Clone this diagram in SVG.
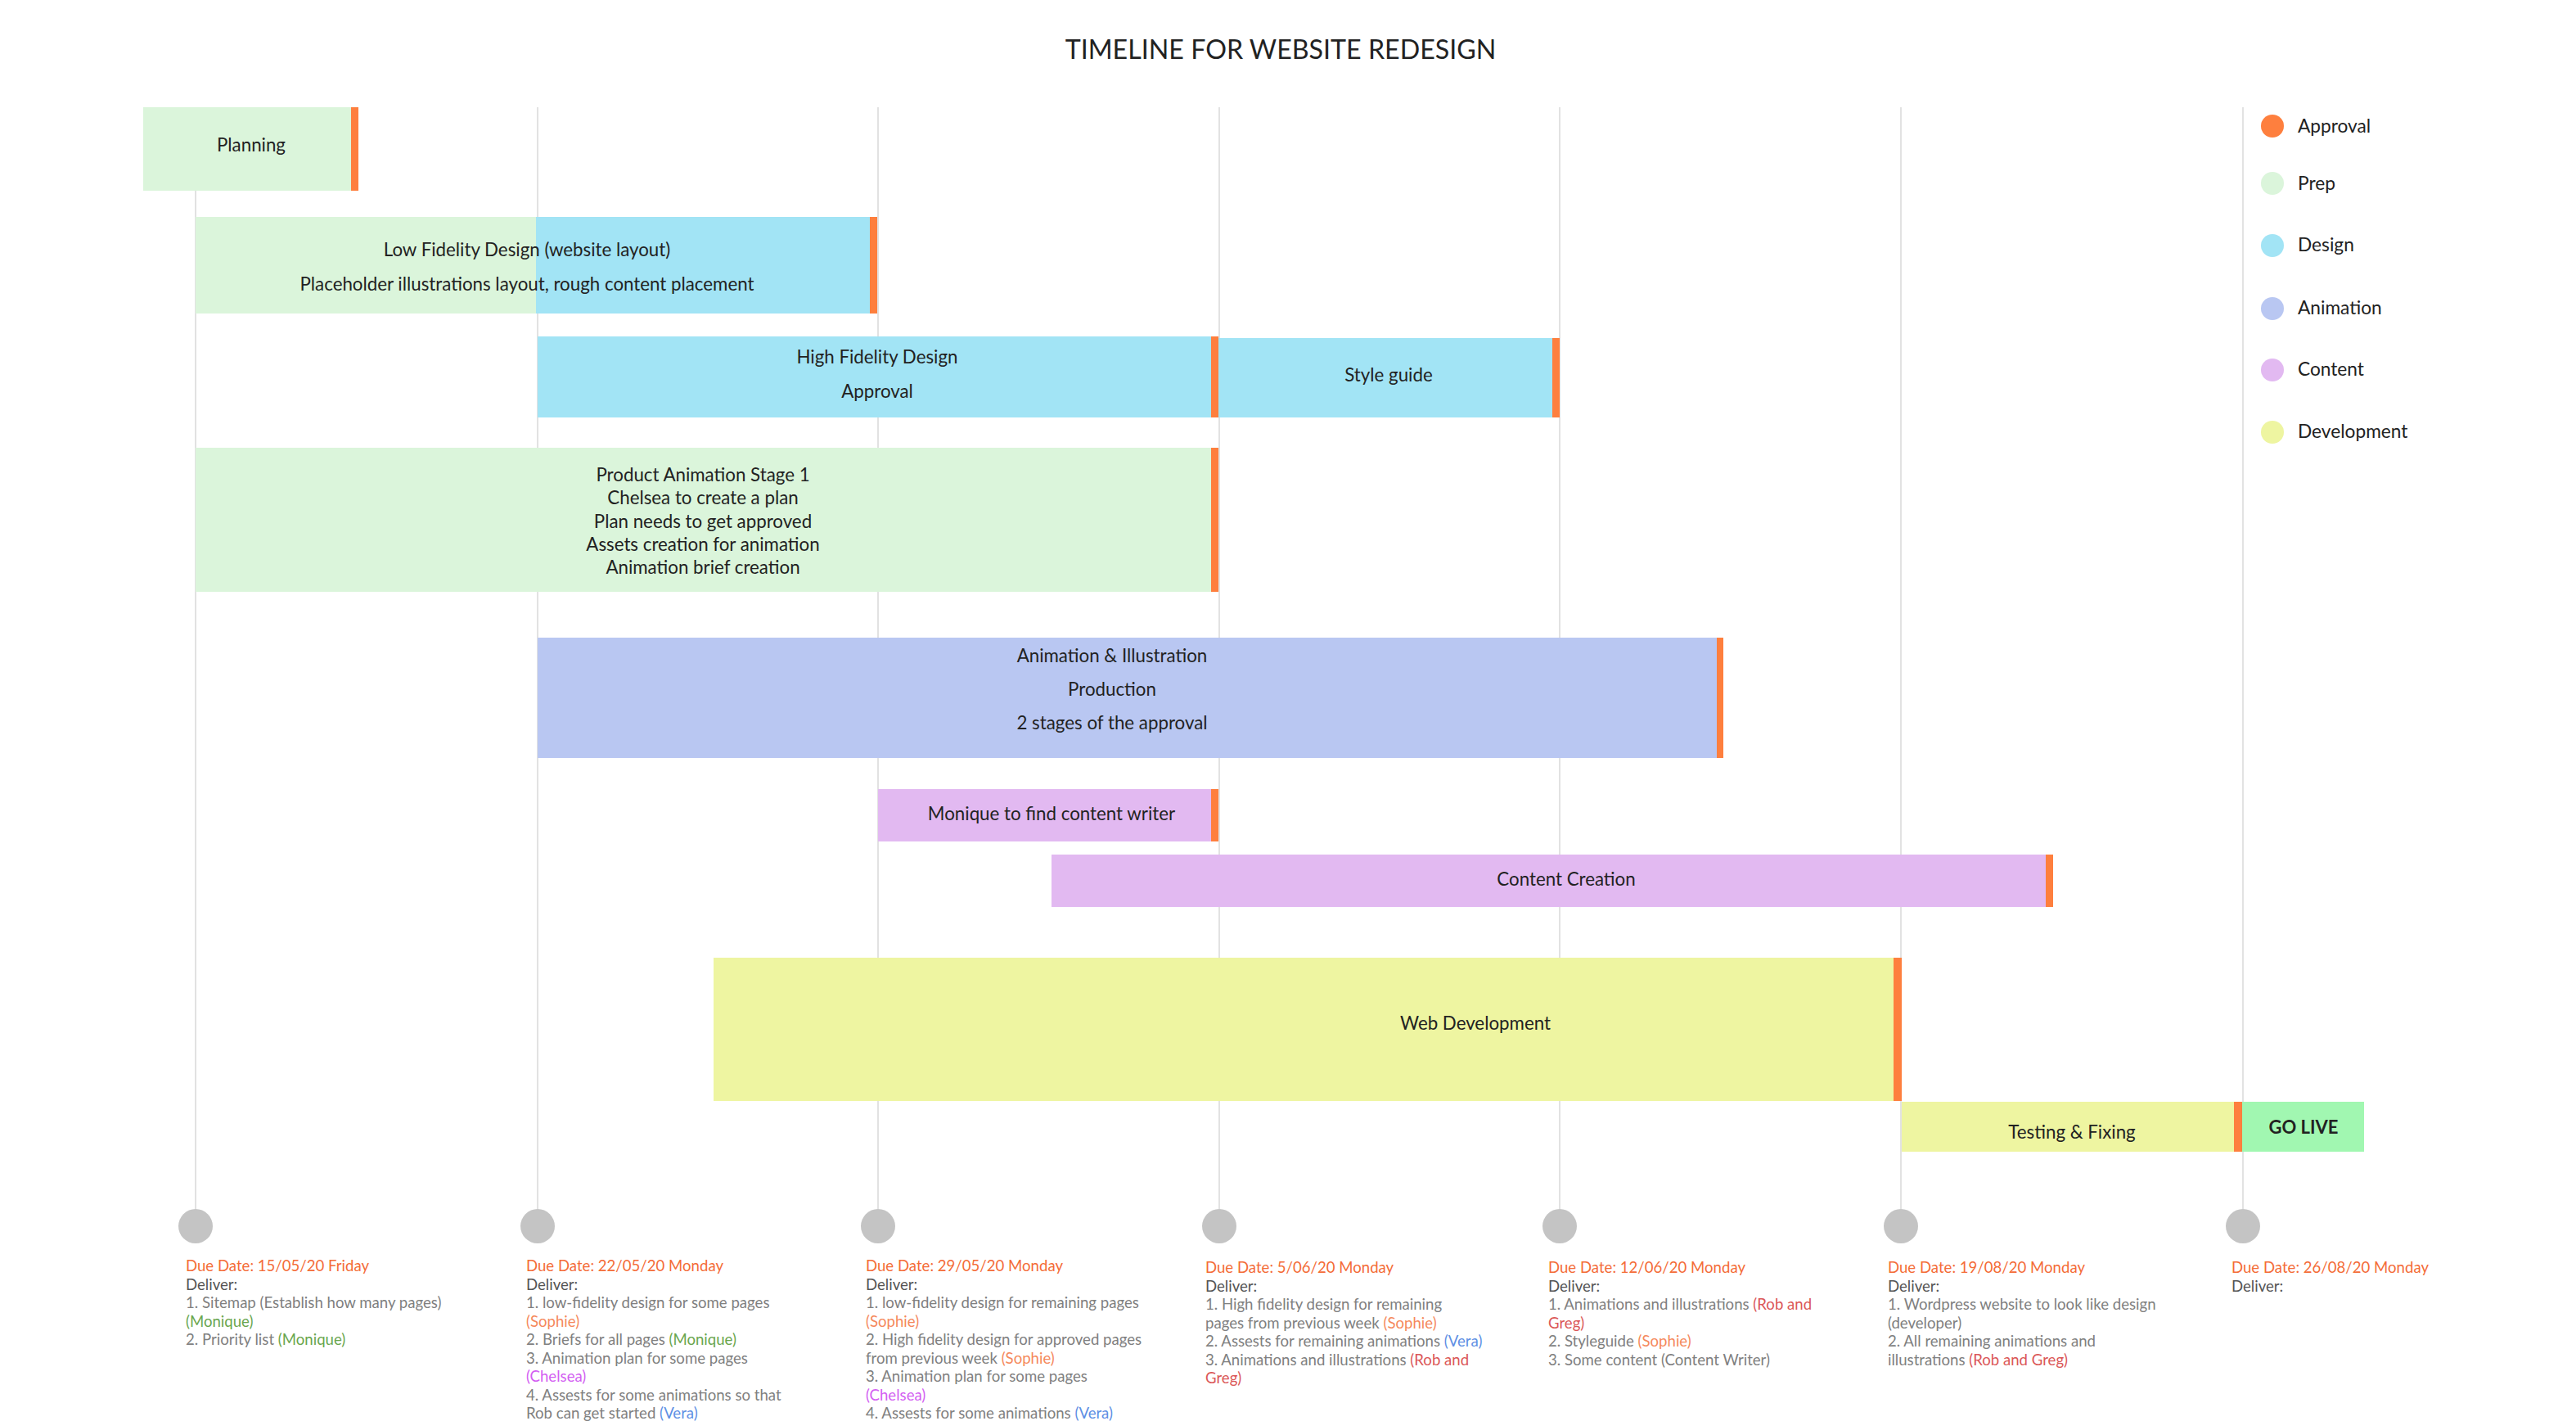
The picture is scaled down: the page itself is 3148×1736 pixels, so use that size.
<svg xmlns="http://www.w3.org/2000/svg" width="3148" height="1736" viewBox="0 0 3148 1736">
<style>
text{font-family:Lato,"Noto Sans","Liberation Sans",sans-serif;}
.bar{font-size:22.3px;fill:#222;text-anchor:middle;}
.lg{font-size:22.7px;fill:#222;}
.ap{fill:#FE7F3E;}
.prep{fill:#DBF5DB;}
.des{fill:#A2E4F5;}
.ani{fill:#B9C7F2;}
.con{fill:#E2B9F1;}
.dev{fill:#EEF5A1;}
.grid{stroke:#E2E2E2;stroke-width:2;fill:none;}
.dot{fill:#C4C4C4;}
.note{font-size:18.6px;fill:#808080;}
.due{fill:#F46C37;}
.dl{fill:#555;}
.mo{fill:#6AA64E;}
.so{fill:#F5895C;}
.ch{fill:#D35FF2;}
.ve{fill:#5E8FE4;}
.rg{fill:#DB5757;}
</style>
<rect x="0" y="0" width="3148" height="1736" fill="#fff"/>
<text x="1565" y="72" style="font-size:32.2px;fill:#222;text-anchor:middle;">TIMELINE FOR WEBSITE REDESIGN</text>

<g id="gridlines">
<line class="grid" x1="239" y1="131" x2="239" y2="1477"/>
<line class="grid" x1="657" y1="131" x2="657" y2="1477"/>
<line class="grid" x1="1073" y1="131" x2="1073" y2="1477"/>
<line class="grid" x1="1490" y1="131" x2="1490" y2="1477"/>
<line class="grid" x1="1906" y1="131" x2="1906" y2="1477"/>
<line class="grid" x1="2323" y1="131" x2="2323" y2="1477"/>
<line class="grid" x1="2741" y1="131" x2="2741" y2="1477"/>
</g>

<g id="planning">
<rect class="prep" x="175" y="131" width="254" height="102"/>
<rect class="ap" x="429" y="131" width="9" height="102"/>
<text class="bar" x="307" y="185">Planning</text>
</g>

<g id="low-fidelity">
<rect class="prep" x="239" y="265" width="417" height="118"/>
<rect class="des" x="655" y="265" width="408" height="118"/>
<rect class="ap" x="1063" y="265" width="9" height="118"/>
<text class="bar" x="644" y="313">Low Fidelity Design (website layout)</text>
<text class="bar" x="644" y="355">Placeholder illustrations layout, rough content placement</text>
</g>

<g id="high-fidelity">
<rect class="des" x="657" y="411" width="823" height="99"/>
<rect class="ap" x="1480" y="411" width="9" height="99"/>
<text class="bar" x="1072" y="444">High Fidelity Design</text>
<text class="bar" x="1072" y="486">Approval</text>
</g>

<g id="style-guide">
<rect class="des" x="1489" y="413" width="408" height="97"/>
<rect class="ap" x="1897" y="413" width="9" height="97"/>
<text class="bar" x="1697" y="466">Style guide</text>
</g>

<g id="product-animation">
<rect class="prep" x="239" y="547" width="1241" height="176"/>
<rect class="ap" x="1480" y="547" width="9" height="176"/>
<text class="bar" x="859" y="588">Product Animation Stage 1</text>
<text class="bar" x="859" y="616">Chelsea to create a plan</text>
<text class="bar" x="859" y="645">Plan needs to get approved</text>
<text class="bar" x="859" y="673">Assets creation for animation</text>
<text class="bar" x="859" y="701">Animation brief creation</text>
</g>

<g id="animation-illustration">
<rect class="ani" x="657" y="779" width="1441" height="147"/>
<rect class="ap" x="2098" y="779" width="8" height="147"/>
<text class="bar" x="1359" y="809">Animation &amp; Illustration</text>
<text class="bar" x="1359" y="850">Production</text>
<text class="bar" x="1359" y="891">2 stages of the approval</text>
</g>

<g id="content-writer">
<rect class="con" x="1073" y="964" width="407" height="64"/>
<rect class="ap" x="1480" y="964" width="9" height="64"/>
<text class="bar" x="1285" y="1002">Monique to find content writer</text>
</g>

<g id="content-creation">
<rect class="con" x="1285" y="1044" width="1215" height="64"/>
<rect class="ap" x="2500" y="1044" width="9" height="64"/>
<text class="bar" x="1914" y="1082">Content Creation</text>
</g>

<g id="web-development">
<rect class="dev" x="872" y="1170" width="1442" height="175"/>
<rect class="ap" x="2314" y="1170" width="10" height="175"/>
<text class="bar" x="1803" y="1258">Web Development</text>
</g>

<g id="testing">
<rect class="dev" x="2324" y="1346" width="406" height="61"/>
<rect class="ap" x="2730" y="1346" width="10" height="61"/>
<text class="bar" x="2532" y="1391">Testing &amp; Fixing</text>
</g>

<g id="go-live">
<rect x="2740" y="1346" width="149" height="61" fill="#A1F7B1"/>
<text class="bar" x="2815" y="1385" style="font-weight:bold;font-size:22px;">GO LIVE</text>
</g>

<g id="legend">
<circle class="ap" cx="2777" cy="154" r="14"/>
<text class="lg" x="2808" y="162">Approval</text>
<circle class="prep" cx="2777" cy="224" r="14"/>
<text class="lg" x="2808" y="232">Prep</text>
<circle class="des" cx="2777" cy="300" r="14"/>
<text class="lg" x="2808" y="307">Design</text>
<circle class="ani" cx="2777" cy="377" r="14"/>
<text class="lg" x="2808" y="384">Animation</text>
<circle class="con" cx="2777" cy="452" r="14"/>
<text class="lg" x="2808" y="459">Content</text>
<circle class="dev" cx="2777" cy="528" r="14"/>
<text class="lg" x="2808" y="535">Development</text>
</g>

<g id="milestone-1">
<circle class="dot" cx="239" cy="1498" r="21"/>
<text class="note" x="227" y="1553"><tspan class="due">Due Date: 15/05/20 Friday</tspan><tspan class="dl" x="227" dy="22.5">Deliver:</tspan><tspan x="227" dy="22.5">1. Sitemap (Establish how many pages)</tspan><tspan x="227" dy="22.5" class="mo">(Monique)</tspan><tspan x="227" dy="22.5">2. Priority list <tspan class="mo">(Monique)</tspan></tspan></text>
</g>

<g id="milestone-2">
<circle class="dot" cx="657" cy="1498" r="21"/>
<text class="note" x="643" y="1553"><tspan class="due">Due Date: 22/05/20 Monday</tspan><tspan class="dl" x="643" dy="22.5">Deliver:</tspan><tspan x="643" dy="22.5">1. low-fidelity design for some pages</tspan><tspan x="643" dy="22.5" class="so">(Sophie)</tspan><tspan x="643" dy="22.5">2. Briefs for all pages <tspan class="mo">(Monique)</tspan></tspan><tspan x="643" dy="22.5">3. Animation plan for some pages</tspan><tspan x="643" dy="22.5" class="ch">(Chelsea)</tspan><tspan x="643" dy="22.5">4. Assests for some animations so that</tspan><tspan x="643" dy="22.5">Rob can get started <tspan class="ve">(Vera)</tspan></tspan></text>
</g>

<g id="milestone-3">
<circle class="dot" cx="1073" cy="1498" r="21"/>
<text class="note" x="1058" y="1553"><tspan class="due">Due Date: 29/05/20 Monday</tspan><tspan class="dl" x="1058" dy="22.5">Deliver:</tspan><tspan x="1058" dy="22.5">1. low-fidelity design for remaining pages</tspan><tspan x="1058" dy="22.5" class="so">(Sophie)</tspan><tspan x="1058" dy="22.5">2. High fidelity design for approved pages</tspan><tspan x="1058" dy="22.5">from previous week <tspan class="so">(Sophie)</tspan></tspan><tspan x="1058" dy="22.5">3. Animation plan for some pages</tspan><tspan x="1058" dy="22.5" class="ch">(Chelsea)</tspan><tspan x="1058" dy="22.5">4. Assests for some animations <tspan class="ve">(Vera)</tspan></tspan></text>
</g>

<g id="milestone-4">
<circle class="dot" cx="1490" cy="1498" r="21"/>
<text class="note" x="1473" y="1555"><tspan class="due">Due Date: 5/06/20 Monday</tspan><tspan class="dl" x="1473" dy="22.5">Deliver:</tspan><tspan x="1473" dy="22.5">1. High fidelity design for remaining</tspan><tspan x="1473" dy="22.5">pages from previous week <tspan class="so">(Sophie)</tspan></tspan><tspan x="1473" dy="22.5">2. Assests for remaining animations <tspan class="ve">(Vera)</tspan></tspan><tspan x="1473" dy="22.5">3. Animations and illustrations <tspan class="rg">(Rob and</tspan></tspan><tspan x="1473" dy="22.5" class="rg">Greg)</tspan></text>
</g>

<g id="milestone-5">
<circle class="dot" cx="1906" cy="1498" r="21"/>
<text class="note" x="1892" y="1555"><tspan class="due">Due Date: 12/06/20 Monday</tspan><tspan class="dl" x="1892" dy="22.5">Deliver:</tspan><tspan x="1892" dy="22.5">1. Animations and illustrations <tspan class="rg">(Rob and</tspan></tspan><tspan x="1892" dy="22.5" class="rg">Greg)</tspan><tspan x="1892" dy="22.5">2. Styleguide <tspan class="so">(Sophie)</tspan></tspan><tspan x="1892" dy="22.5">3. Some content (Content Writer)</tspan></text>
</g>

<g id="milestone-6">
<circle class="dot" cx="2323" cy="1498" r="21"/>
<text class="note" x="2307" y="1555"><tspan class="due">Due Date: 19/08/20 Monday</tspan><tspan class="dl" x="2307" dy="22.5">Deliver:</tspan><tspan x="2307" dy="22.5">1. Wordpress website to look like design</tspan><tspan x="2307" dy="22.5">(developer)</tspan><tspan x="2307" dy="22.5">2. All remaining animations and</tspan><tspan x="2307" dy="22.5">illustrations <tspan class="rg">(Rob and Greg)</tspan></tspan></text>
</g>

<g id="milestone-7">
<circle class="dot" cx="2741" cy="1498" r="21"/>
<text class="note" x="2727" y="1555"><tspan class="due">Due Date: 26/08/20 Monday</tspan><tspan class="dl" x="2727" dy="22.5">Deliver:</tspan></text>
</g>
</svg>
